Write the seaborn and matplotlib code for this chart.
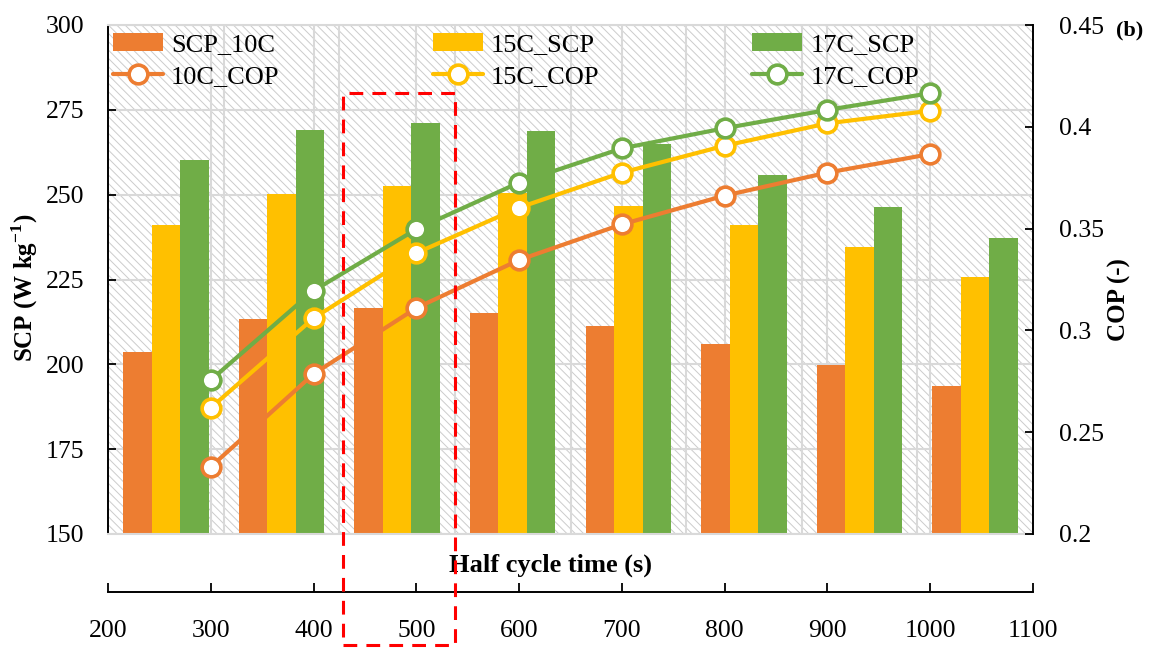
import numpy as np
import pandas as pd
import matplotlib
matplotlib.use('Agg')
import matplotlib.pyplot as plt
from matplotlib.patches import Rectangle
from matplotlib.ticker import FuncFormatter
import seaborn as sns

# data
half_cycle = [300, 400, 500, 600, 700, 800, 900, 1000]
scp_10c = [203.6, 213.4, 216.5, 215.0, 211.3, 205.9, 199.8, 193.7]
scp_15c = [241.1, 250.2, 252.6, 250.4, 246.7, 241.1, 234.7, 225.8]
scp_17c = [260.2, 269.0, 271.2, 268.9, 265.0, 255.8, 246.4, 237.1]
cop_10c = [0.233, 0.2786, 0.311, 0.3346, 0.3521, 0.3662, 0.3775, 0.3866]
cop_15c = [0.262, 0.306, 0.338, 0.3603, 0.3775, 0.3907, 0.4017, 0.4079]
cop_17c = [0.2756, 0.3195, 0.3497, 0.3726, 0.3894, 0.3993, 0.4083, 0.4165]

scp_names = ['SCP_10C', '15C_SCP', '17C_SCP']
cop_names = ['10C_COP', '15C_COP', '17C_COP']
colors = ['#ED7D31', '#FFC000', '#70AD47']
grid_c = '#d9d9d9'

df_scp = pd.DataFrame({
    'time': half_cycle * 3,
    'scp': scp_10c + scp_15c + scp_17c,
    'series': np.repeat(scp_names, len(half_cycle)),
})

sns.set_style('ticks')
plt.rcParams['font.family'] = ['Liberation Serif', 'DejaVu Serif']
plt.rcParams['mathtext.fontset'] = 'custom'
plt.rcParams['mathtext.rm'] = 'Liberation Serif'
plt.rcParams['mathtext.bf'] = 'Liberation Serif:bold'
plt.rcParams['hatch.linewidth'] = 0.7
for k in ['text.color', 'axes.labelcolor', 'xtick.color', 'ytick.color']:
    plt.rcParams[k] = 'black'

fig = plt.figure(figsize=(11.76, 6.53), dpi=100)
rect = [108 / 1176, 119 / 653, 925 / 1176, 509 / 653]

# background: hatch + vertical grid of the value x-axis
ax_g = fig.add_axes(rect)
ax_g.set_xlim(200, 1100)
ax_g.set_ylim(150, 300)
ax_g.add_patch(Rectangle((0, 0), 1, 1, transform=ax_g.transAxes, facecolor='white',
                         edgecolor='#cccccc', hatch='\\\\\\\\', lw=0, zorder=0))
ax_g.set_xticks(range(300, 1100, 100))
ax_g.grid(axis='x', color=grid_c, lw=1.5)
ax_g.grid(axis='y', visible=False)
ax_g.tick_params(length=0, labelbottom=False, labelleft=False)
for s in ax_g.spines.values():
    s.set_visible(False)

# bars (SCP)
ax = fig.add_axes(rect)
ax.patch.set_visible(False)
sns.barplot(data=df_scp, x='time', y='scp', hue='series', palette=colors,
            width=0.74, saturation=1, linewidth=0, legend=False, ax=ax)
ax.set_xlim(-0.5, 7.5)
ax.set_ylim(150, 300)
ax.set_yticks(range(150, 301, 25))
ax.set_xticks(np.arange(0.5, 7, 1), minor=True)
ax.set_axisbelow(True)
ax.grid(which='minor', axis='x', color=grid_c, lw=1.5)
ax.grid(which='major', axis='y', color=grid_c, lw=1.5)
ax.grid(which='major', axis='x', visible=False)
ax.tick_params(axis='x', which='both', length=0, labelbottom=False)
ax.tick_params(axis='y', direction='in', length=6, width=1.3, pad=17, labelsize=18.5)
ax.set_xlabel('')
ax.set_ylabel('SCP (W kg$^{\\mathbf{-1}}$)', fontsize=18, fontweight='bold')
ax.yaxis.set_label_coords(-0.073, 0.483)
ax.spines['left'].set_color('black')
ax.spines['left'].set_linewidth(1.4)
ax.spines['top'].set_color(grid_c)
ax.spines['top'].set_linewidth(1.5)
ax.spines['bottom'].set_color(grid_c)
ax.spines['bottom'].set_linewidth(1.5)
ax.spines['right'].set_visible(False)

# COP axis
ax2 = ax.twinx()
ax2.set_ylim(0.2, 0.45)
ax2.set_yticks([0.2, 0.25, 0.3, 0.35, 0.4, 0.45])
ax2.yaxis.set_major_formatter(FuncFormatter(lambda v, p: f'{v:g}'))
ax2.tick_params(axis='y', direction='in', length=6, width=1.3, pad=19, labelsize=18.5)
for s in ['left', 'top', 'bottom']:
    ax2.spines[s].set_visible(False)
ax2.spines['right'].set_color('black')
ax2.spines['right'].set_linewidth(1.4)
ax2.set_ylabel('COP (-)', fontsize=18, fontweight='bold')
ax2.yaxis.set_label_coords(1.081, 0.46)

# lines on a value x-axis
ax3 = ax2.twiny()
ax3.set_xlim(200, 1100)
for vals, c, lab in zip([cop_10c, cop_15c, cop_17c], colors, cop_names):
    sns.lineplot(x=half_cycle, y=vals, ax=ax3, color=c, linewidth=3.0, marker='o',
                 markersize=13.5, markerfacecolor='white', markeredgecolor=c,
                 markeredgewidth=2.6, label=lab)
ax3.set_xlim(200, 1100)
ax3.set_ylim(0.2, 0.45)
ax3.set_xticks(range(200, 1101, 100))
ax3.xaxis.set_ticks_position('bottom')
for s in ['left', 'right', 'top']:
    ax3.spines[s].set_visible(False)
ax3.spines['bottom'].set_visible(True)
ax3.spines['bottom'].set_position(('outward', 42))
ax3.spines['bottom'].set_color('black')
ax3.spines['bottom'].set_linewidth(1.4)
ax3.tick_params(axis='x', direction='in', length=6.5, width=1.3, pad=20, labelsize=18.5)
ax3.tick_params(axis='y', left=False, right=False, labelleft=False, labelright=False)
ax3.set_xlabel('')
ax3.set_ylabel('')
ax3.text(0.478, -0.061, 'Half cycle time (s)', transform=ax3.transAxes,
         ha='center', va='center', fontsize=19, fontweight='bold')

handles = []
labels = []
for i in range(3):
    handles += [ax.containers[i], ax3.lines[i]]
    labels += [scp_names[i], cop_names[i]]
ax3.legend(handles=handles, labels=labels, ncol=3, loc='upper left',
           bbox_to_anchor=(113 / 1176, 1 - 33 / 653), bbox_transform=fig.transFigure,
           frameon=False, fontsize=19, handlelength=1.9, handletextpad=0.3,
           columnspacing=5.8, labelspacing=0.3, borderpad=0, borderaxespad=0)

fig.add_artist(Rectangle((343 / 1176, 8 / 653), 112 / 1176, 552 / 653,
                         transform=fig.transFigure, fill=False, edgecolor='#ff0000',
                         lw=2.2, linestyle=(0, (4.5, 3)), zorder=10))
fig.text(1130 / 1176, 1 - 30 / 653, '(b)', fontsize=16, fontweight='bold',
         ha='center', va='center')

fig.savefig('out.png', dpi=100)
